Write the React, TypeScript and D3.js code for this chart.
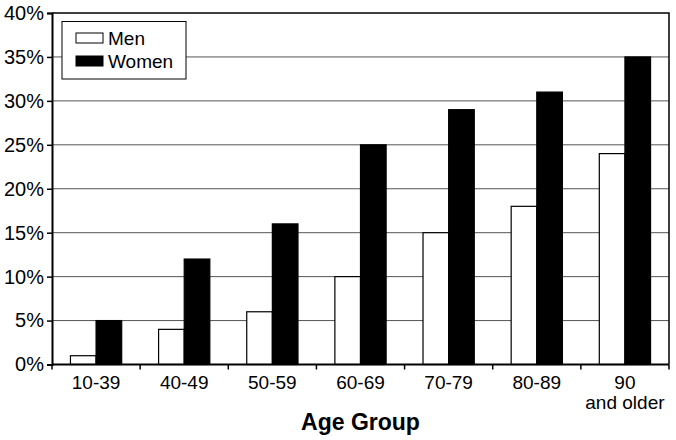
import React, { useEffect, useRef } from 'react';
import * as d3 from 'd3';

const categories = ['10-39', '40-49', '50-59', '60-69', '70-79', '80-89', '90\nand older'];
const men = [1, 4, 6, 10, 15, 18, 24];
const women = [5, 12, 16, 25, 29, 31, 35];
const yTicks = [0, 5, 10, 15, 20, 25, 30, 35, 40];

const App = () => {
  const svgRef = useRef<SVGSVGElement | null>(null);

  useEffect(() => {
    if (!svgRef.current) return;
    const svg = d3.select(svgRef.current);
    svg.selectAll('*').remove();

    const margin = { top: 13, right: 7, bottom: 75.5, left: 52 };
    const width = 676;
    const height = 440;
    const innerW = width - margin.left - margin.right;
    const innerH = height - margin.top - margin.bottom;
    const font = 'Arial, "Liberation Sans", sans-serif';

    const g = svg.append('g').attr('transform', `translate(${margin.left},${margin.top})`);

    const x = d3.scaleBand<string>().domain(categories).range([0, innerW]).paddingInner(0).paddingOuter(0);
    const x1 = d3.scaleBand<string>().domain(['men', 'women']).range([0, x.bandwidth()]).paddingOuter(0.72).paddingInner(0);
    const y = d3.scaleLinear().domain([0, 40]).range([innerH, 0]);

    // gridlines
    g.selectAll('.grid')
      .data(yTicks.filter(d => d > 0 && d < 40))
      .enter()
      .append('line')
      .attr('x1', 0)
      .attr('x2', innerW)
      .attr('y1', d => y(d))
      .attr('y2', d => y(d))
      .attr('stroke', '#555')
      .attr('stroke-width', 1);

    // top and right border
    g.append('path')
      .attr('d', `M0,${y(40)}H${innerW}V${innerH}`)
      .attr('fill', 'none')
      .attr('stroke', '#000')
      .attr('stroke-width', 1.5);

    // bars
    const groups = g.selectAll('.grp')
      .data(categories)
      .enter()
      .append('g')
      .attr('transform', d => `translate(${x(d)},0)`);

    groups.append('rect')
      .attr('x', x1('men')!)
      .attr('width', x1.bandwidth())
      .attr('y', (d, i) => y(men[i]))
      .attr('height', (d, i) => innerH - y(men[i]))
      .attr('fill', '#fff')
      .attr('stroke', '#000')
      .attr('stroke-width', 1.2);

    groups.append('rect')
      .attr('x', x1('women')!)
      .attr('width', x1.bandwidth())
      .attr('y', (d, i) => y(women[i]))
      .attr('height', (d, i) => innerH - y(women[i]))
      .attr('fill', '#000')
      .attr('stroke', '#000')
      .attr('stroke-width', 1.2);

    // y axis
    const yAxis = g.append('g')
      .call(d3.axisLeft(y).tickValues(yTicks).tickFormat(d => `${d}%`).tickSize(5).tickPadding(3) as any);
    yAxis.select('.domain').attr('stroke-width', 2);
    yAxis.selectAll('line').attr('stroke-width', 1.5);
    yAxis.selectAll('text').attr('font-size', 20).attr('font-family', font).attr('fill', '#000');

    // x axis
    const xAxisG = g.append('g').attr('transform', `translate(0,${innerH})`);
    xAxisG.append('line').attr('x1', 0).attr('x2', innerW).attr('stroke', '#000').attr('stroke-width', 2);
    xAxisG.selectAll('.tick')
      .data(d3.range(categories.length + 1))
      .enter()
      .append('line')
      .attr('x1', d => d * x.step())
      .attr('x2', d => d * x.step())
      .attr('y1', 0)
      .attr('y2', 5)
      .attr('stroke', '#000')
      .attr('stroke-width', 1.5);

    const labels = xAxisG.selectAll('.lbl')
      .data(categories)
      .enter()
      .append('text')
      .attr('x', d => x(d)! + x.bandwidth() / 2)
      .attr('y', 24)
      .attr('text-anchor', 'middle')
      .attr('font-size', 19)
      .attr('font-family', font)
      .attr('fill', '#000');
    labels.each(function (d) {
      const parts = d.split('\n');
      parts.forEach((p, i) => {
        d3.select(this).append('tspan')
          .attr('x', x(d)! + x.bandwidth() / 2)
          .attr('dy', i === 0 ? 0 : 20)
          .text(p);
      });
    });

    // axis title
    svg.append('text')
      .attr('x', margin.left + innerW / 2)
      .attr('y', 430)
      .attr('text-anchor', 'middle')
      .attr('font-size', 23)
      .attr('font-weight', 'bold')
      .attr('font-family', font)
      .text('Age Group');

    // legend
    const legend = svg.append('g').attr('transform', 'translate(62,21.5)');
    legend.append('rect')
      .attr('width', 124)
      .attr('height', 57.5)
      .attr('fill', '#fff')
      .attr('stroke', '#000')
      .attr('stroke-width', 1);
    const items = [{ name: 'Men', fill: '#fff' }, { name: 'Women', fill: '#000' }];
    items.forEach((it, i) => {
      legend.append('rect')
        .attr('x', 14)
        .attr('y', 11.5 + i * 23)
        .attr('width', 27)
        .attr('height', 10)
        .attr('fill', it.fill)
        .attr('stroke', '#000')
        .attr('stroke-width', 1);
      legend.append('text')
        .attr('x', 46)
        .attr('y', 23.5 + i * 23)
        .attr('font-size', 19)
        .attr('font-family', font)
        .text(it.name);
    });
  }, []);

  return (
    <svg
      ref={svgRef}
      width={676}
      height={440}
      style={{ position: 'absolute', left: 0, top: 0, background: '#fff' }}
    ></svg>
  );
};

export default App;
